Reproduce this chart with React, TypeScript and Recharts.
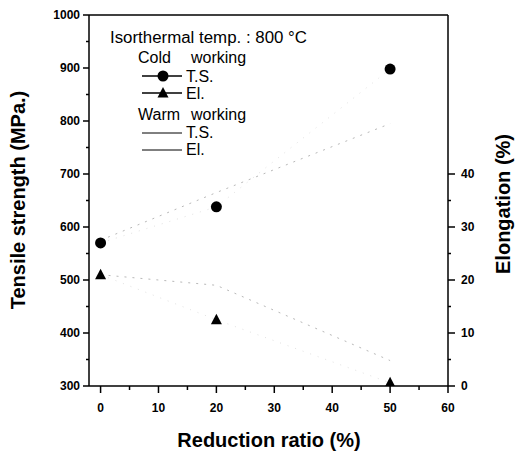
import React from 'react';
import { ComposedChart, Line, XAxis, YAxis, Legend, ReferenceLine } from 'recharts';

// ---- data ----
const reduction = [0, 20, 50];
const coldTS = [570, 638, 898];
const coldEl = [21, 12.5, 0.6];
const warmTS = [575, 665, 795];
const warmEl = [21, 19, 4.8];

const xTicks = [0, 5, 10, 15, 20, 25, 30, 35, 40, 45, 50, 55, 60];
const tsTicks = [300, 350, 400, 450, 500, 550, 600, 650, 700, 750, 800, 850, 900, 950, 1000];
const elTicks = [0, 5, 10, 15, 20, 25, 30, 35, 40];

const data = reduction.map((r, i) => ({
  x: r,
  coldTS: coldTS[i],
  coldEl: coldEl[i],
  warmTS: warmTS[i],
  warmEl: warmEl[i],
}));

const FONT = '"Liberation Sans", Arial, Helvetica, sans-serif';
const W = 516;
const H = 454;

const XTick = (props: any) => {
  const { x, y, payload } = props;
  const major = payload.value % 10 === 0;
  return (
    <g>
      <line x1={x} y1={y} x2={x} y2={y + (major ? 7 : 4)} stroke="#000" strokeWidth={1.5} />
      {major && (
        <text x={x} y={y + 26} textAnchor="middle" fontSize={12} fontWeight="bold" fontFamily={FONT} fill="#000">
          {payload.value}
        </text>
      )}
    </g>
  );
};

const LeftTick = (props: any) => {
  const { x, y, payload } = props;
  const major = payload.value % 100 === 0;
  return (
    <g>
      <line x1={x} y1={y} x2={x - (major ? 6 : 3)} y2={y} stroke="#000" strokeWidth={1.5} />
      {major && (
        <text x={x - 9} y={y + 4} textAnchor="end" fontSize={12} fontWeight="bold" fontFamily={FONT} fill="#000">
          {payload.value}
        </text>
      )}
    </g>
  );
};

const RightTick = (props: any) => {
  const { x, y, payload } = props;
  const major = payload.value % 10 === 0;
  return (
    <g>
      <line x1={x} y1={y} x2={x + (major ? 7 : 3)} y2={y} stroke="#000" strokeWidth={1.5} />
      {major && (
        <text x={x + 13} y={y + 4} textAnchor="start" fontSize={12} fontWeight="bold" fontFamily={FONT} fill="#000">
          {payload.value}
        </text>
      )}
    </g>
  );
};

const CircleDot = (props: any) => {
  const { cx, cy } = props;
  if (cx == null || cy == null) return null;
  return <circle cx={cx} cy={cy} r={5.5} fill="#000" />;
};

const TriDot = (props: any) => {
  const { cx, cy } = props;
  if (cx == null || cy == null) return null;
  return <path d={`M${cx},${cy - 6} L${cx + 5.5},${cy + 4.5} L${cx - 5.5},${cy + 4.5} Z`} fill="#000" />;
};

const LegendBox = () => (
  <svg
    width={W}
    height={170}
    style={{ position: 'absolute', left: 0, top: 0, overflow: 'visible' }}
    fontFamily={FONT}
  >
    <text x={110} y={43} fontSize={16} textLength={197} lengthAdjust="spacingAndGlyphs" fill="#000">
      Isorthermal temp. : 800 °C
    </text>
    <text x={138} y={63} fontSize={16} fill="#000">Cold</text>
    <text x={191} y={63} fontSize={16} fill="#000">working</text>
    <line x1={142} y1={76} x2={182} y2={76} stroke="#000" strokeWidth={1.5} />
    <circle cx={163} cy={76} r={5.5} fill="#000" />
    <text x={186} y={82} fontSize={16} fill="#000">T.S.</text>
    <line x1={142} y1={93} x2={182} y2={93} stroke="#000" strokeWidth={1.5} />
    <path d="M163,87 L168.5,97.5 L157.5,97.5 Z" fill="#000" />
    <text x={186} y={99} fontSize={16} fill="#000">El.</text>
    <text x={138} y={120} fontSize={16} fill="#000">Warm</text>
    <text x={191} y={120} fontSize={16} fill="#000">working</text>
    <line x1={142} y1={133} x2={182} y2={133} stroke="#000" strokeWidth={1} />
    <text x={186} y={138} fontSize={16} fill="#000">T.S.</text>
    <line x1={142} y1={150} x2={182} y2={150} stroke="#000" strokeWidth={1} />
    <text x={186} y={155} fontSize={16} fill="#000">El.</text>
  </svg>
);

export default function App() {
  return (
    <div style={{ position: 'absolute', left: 0, top: 0, width: W, height: H, background: '#fff' }}>
      <ComposedChart width={W} height={H} data={data} margin={{ top: 15, right: 0, bottom: 0, left: 0 }}>
        <XAxis
          dataKey="x"
          type="number"
          domain={[-2, 60]}
          ticks={xTicks}
          interval={0}
          height={68}
          tickSize={0}
          tickMargin={0}
          tickLine={false}
          tick={<XTick />}
          axisLine={{ stroke: '#000', strokeWidth: 1.5 }}
          allowDataOverflow
          label={() => (
            <text x={269} y={447} textAnchor="middle" fontSize={20} fontWeight="bold" fontFamily={FONT} fill="#000">
              Reduction ratio (%)
            </text>
          )}
        />
        <YAxis
          yAxisId="ts"
          orientation="left"
          type="number"
          domain={[300, 1000]}
          ticks={tsTicks}
          interval={0}
          width={89}
          tickSize={0}
          tickMargin={0}
          tickLine={false}
          tick={<LeftTick />}
          axisLine={{ stroke: '#000', strokeWidth: 1.5 }}
          allowDataOverflow
          label={() => (
            <text
              x={0}
              y={0}
              transform="translate(25,200) rotate(-90)"
              textAnchor="middle"
              fontSize={20}
              fontWeight="bold"
              fontFamily={FONT}
              fill="#000"
            >
              Tensile strength (MPa.)
            </text>
          )}
        />
        <YAxis
          yAxisId="el"
          orientation="right"
          type="number"
          domain={[0, 70]}
          ticks={elTicks}
          interval={0}
          width={68}
          tickSize={0}
          tickMargin={0}
          tickLine={false}
          tick={<RightTick />}
          axisLine={{ stroke: '#000', strokeWidth: 1.5 }}
          allowDataOverflow
          label={() => (
            <text
              x={0}
              y={0}
              transform="translate(510,204) rotate(-90)"
              textAnchor="middle"
              fontSize={20}
              fontWeight="bold"
              fontFamily={FONT}
              fill="#000"
            >
              Elongation (%)
            </text>
          )}
        />
        <ReferenceLine yAxisId="ts" y={1000} stroke="#000" strokeWidth={1.5} />
        <Legend
          content={() => <LegendBox />}
          wrapperStyle={{ position: 'absolute', left: 0, top: 0, width: 0, height: 0 }}
        />
        <Line
          yAxisId="ts"
          dataKey="warmTS"
          name="Warm working T.S."
          stroke="#b8b8b8"
          strokeWidth={1}
          strokeDasharray="2 6"
          dot={false}
          isAnimationActive={false}
          type="linear"
        />
        <Line
          yAxisId="el"
          dataKey="warmEl"
          name="Warm working El."
          stroke="#b8b8b8"
          strokeWidth={1}
          strokeDasharray="2 6"
          dot={false}
          isAnimationActive={false}
          type="linear"
        />
        <Line
          yAxisId="ts"
          dataKey="coldTS"
          name="Cold working T.S."
          stroke="#e2e2e2"
          strokeWidth={1}
          strokeDasharray="1 7"
          dot={<CircleDot />}
          isAnimationActive={false}
          type="linear"
        />
        <Line
          yAxisId="el"
          dataKey="coldEl"
          name="Cold working El."
          stroke="#e2e2e2"
          strokeWidth={1}
          strokeDasharray="1 7"
          dot={<TriDot />}
          isAnimationActive={false}
          type="linear"
        />
      </ComposedChart>
    </div>
  );
}
